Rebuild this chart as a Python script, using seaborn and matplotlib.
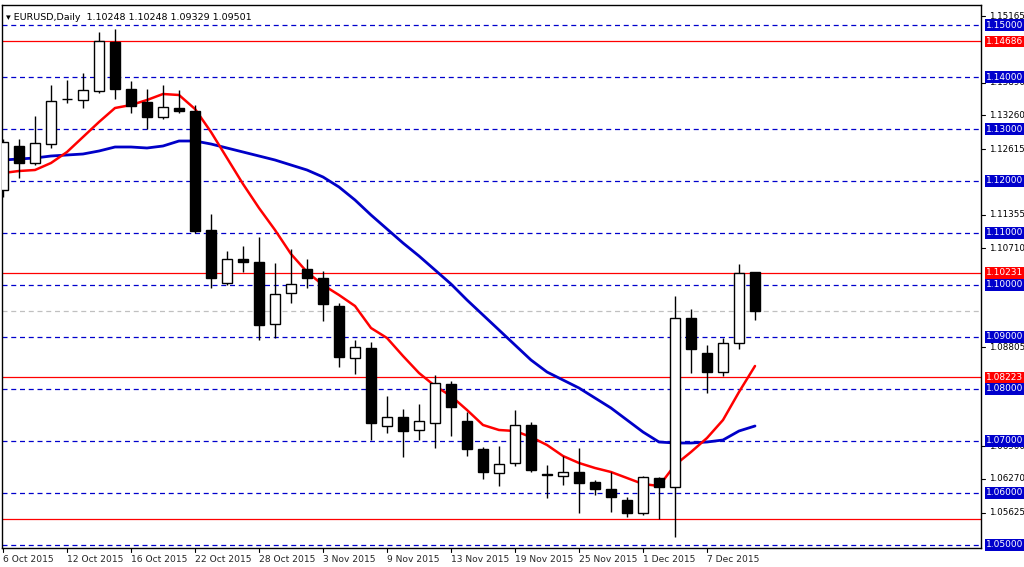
import matplotlib
matplotlib.use("Agg")
import matplotlib.pyplot as plt
import seaborn as sns
import numpy as np
import pandas as pd

dates = ["6 Oct","7 Oct","8 Oct","9 Oct","12 Oct","13 Oct","14 Oct","15 Oct","16 Oct","19 Oct","20 Oct","21 Oct",
         "22 Oct","23 Oct","26 Oct","27 Oct","28 Oct","29 Oct","30 Oct","2 Nov","3 Nov","4 Nov","5 Nov","6 Nov",
         "9 Nov","10 Nov","11 Nov","12 Nov","13 Nov","16 Nov","17 Nov","18 Nov","19 Nov","20 Nov","23 Nov","24 Nov",
         "25 Nov","26 Nov","27 Nov","30 Nov","1 Dec","2 Dec","3 Dec","4 Dec","7 Dec","8 Dec","9 Dec","10 Dec"]
opens  = [1.1183,1.1267,1.1235,1.1271,1.1357,1.1356,1.1373,1.1467,1.1377,1.1352,1.1323,1.1340,
          1.1335,1.1106,1.1004,1.1050,1.1044,1.0925,1.0985,1.1031,1.1013,1.0960,1.0860,1.0879,
          1.0729,1.0746,1.0721,1.0735,1.0810,1.0738,1.0685,1.0638,1.0658,1.0731,1.0636,1.0632,
          1.0640,1.0621,1.0608,1.0587,1.0562,1.0629,1.0612,1.0937,1.0869,1.0833,1.0888,1.10248]
highs  = [1.1280,1.1281,1.1325,1.1385,1.1394,1.1408,1.1487,1.1492,1.1392,1.1377,1.1385,1.1375,
          1.1346,1.1136,1.1065,1.1075,1.1092,1.1042,1.1069,1.1050,1.1027,1.0965,1.0894,1.0890,
          1.0787,1.0762,1.0771,1.0827,1.0815,1.0756,1.0688,1.0690,1.0760,1.0737,1.0654,1.0671,
          1.0687,1.0625,1.0640,1.0592,1.0633,1.0631,1.0979,1.0954,1.0885,1.0898,1.1040,1.10248]
lows   = [1.1170,1.1206,1.1231,1.1263,1.1350,1.1340,1.1370,1.1358,1.1331,1.1300,1.1319,1.1331,
          1.1100,1.0994,1.1000,1.1025,1.0894,1.0898,1.0965,1.0995,1.0931,1.0842,1.0829,1.0702,
          1.0715,1.0669,1.0702,1.0687,1.0710,1.0671,1.0627,1.0613,1.0652,1.0640,1.0590,1.0615,
          1.0562,1.0596,1.0563,1.0554,1.0558,1.0550,1.0515,1.0831,1.0792,1.0825,1.0877,1.09329]
closes = [1.1275,1.1235,1.1273,1.1354,1.1358,1.1375,1.1469,1.1377,1.1344,1.1323,1.1342,1.1335,
          1.1104,1.1013,1.1050,1.1044,1.0923,1.0983,1.1002,1.1013,1.0963,1.0862,1.0881,1.0735,
          1.0746,1.0719,1.0738,1.0812,1.0765,1.0685,1.0640,1.0656,1.0731,1.0644,1.0634,1.0640,
          1.0619,1.0608,1.0592,1.0562,1.0631,1.0612,1.0937,1.0877,1.0833,1.0888,1.1023,1.09501]
# moving averages (pixel rows converted to price)
ma_fast_px = [173,171,170,163,152,137,122,108,105,100,94,95,109,132,158,184,208,230,254,272,285,295,306,328,
              338,356,373,386,396,410,425,430,431,437,445,456,463,468,472,478,484,486,465,452,438,420,392,366]
ma_slow_px = [160,159,158,156,155,154,151,147,147,148,146,141,141,144,148,152,156,160,165,170,177,187,200,215,
              229,243,256,270,284,300,315,330,345,360,372,380,388,398,408,420,432,442,443,443,442,440,431,426]
ma_fast = [1.15 - (p - 25) / 5200 for p in ma_fast_px]
ma_slow = [1.15 - (p - 25) / 5200 for p in ma_slow_px]

grid_levels = [1.05,1.06,1.07,1.08,1.09,1.10,1.11,1.12,1.13,1.14,1.15]
red_levels = [1.14686,1.10231,1.08223,1.0550]
red_labels = ["1.14686","1.10231","1.08223",None]
tick_levels = [1.15165,1.13890,1.13260,1.12615,1.11355,1.10710,1.08805,1.06900,1.06270,1.05625]
bid = 1.09501
date_label_idx = [0,4,8,12,16,20,24,28,32,36,40,44]
date_label_txt = ["6 Oct 2015","12 Oct 2015","16 Oct 2015","22 Oct 2015","28 Oct 2015","3 Nov 2015",
                  "9 Nov 2015","13 Nov 2015","19 Nov 2015","25 Nov 2015","1 Dec 2015","7 Dec 2015"]

sns.set_style("white")
plt.rcParams['font.family'] = ['DejaVu Sans']
fig = plt.figure(figsize=(10.24, 5.67), dpi=100)
ax = fig.add_axes([2/1024, 19/567, 979/1024, 543/567])
ax.set_xlim(-1/16, 61.125)
ax.set_ylim(1.15 - 523/5200, 1.15 + 20/5200)

for lv in grid_levels:
    ax.axhline(lv, color="#0000cc", lw=0.9, ls=(0, (4, 3)), zorder=1)
for lv in red_levels:
    ax.axhline(lv, color="red", lw=0.9, zorder=1)
ax.axhline(bid, color="#c0c0c0", lw=0.9, ls=(0, (4, 3)), zorder=1)

df = pd.DataFrame({"i": np.arange(len(closes)), "fast": ma_fast, "slow": ma_slow})
sns.lineplot(data=df, x="i", y="slow", color="#0000c8", lw=2, ax=ax, zorder=2)
sns.lineplot(data=df, x="i", y="fast", color="#ff0000", lw=1.8, ax=ax, zorder=2)

for i in range(len(closes)):
    o, h, l, c = opens[i], highs[i], lows[i], closes[i]
    ax.vlines(i, l, h, color="black", lw=1, zorder=3)
    bot, top = min(o, c), max(o, c)
    ht = max(top - bot, 0.00012)
    ax.bar(i, ht, bottom=bot, width=0.6, color="white" if c >= o else "black",
           edgecolor="black", lw=1, zorder=4)

ax.set_xlabel(""); ax.set_ylabel("")
ax.set_xticks([]); ax.set_yticks([])
for s in ax.spines.values():
    s.set_color("black"); s.set_linewidth(1)

trans = ax.get_yaxis_transform()
for lv in tick_levels:
    ax.plot([1.0, 1.004], [lv, lv], color="black", lw=0.8, transform=trans, clip_on=False)
    ax.text(1.008, lv, f"{lv:.5f}", transform=trans, va="center", ha="left", fontsize=6.3, color="black", clip_on=False)
for lv in grid_levels:
    ax.text(1.005, lv, f"{lv:.5f}", transform=trans, va="center", ha="left", fontsize=6.5, color="white",
            clip_on=False, zorder=10, bbox=dict(boxstyle="square,pad=0.12", fc="#0000cc", ec="none"))
for lv, lb in zip(red_levels, red_labels):
    if lb:
        ax.text(1.005, lv, lb, transform=trans, va="center", ha="left", fontsize=6.5, color="white",
                clip_on=False, zorder=9, bbox=dict(boxstyle="square,pad=0.12", fc="#ff0000", ec="none"))

xt = ax.get_xaxis_transform()
for idx, t in zip(date_label_idx, date_label_txt):
    ax.plot([idx, idx], [0, -0.008], color="black", lw=0.8, transform=xt, clip_on=False)
    ax.text(idx, -0.012, t, transform=xt, ha="left", va="top", fontsize=6.6, clip_on=False)

ax.text(0.004, 0.985, "\u25be EURUSD,Daily  1.10248 1.10248 1.09329 1.09501", transform=ax.transAxes,
        fontsize=6.8, va="top", ha="left", color="black", zorder=10,
        bbox=dict(fc="white", ec="none", pad=0.5))

fig.savefig("out.png", dpi=100, facecolor="white")
